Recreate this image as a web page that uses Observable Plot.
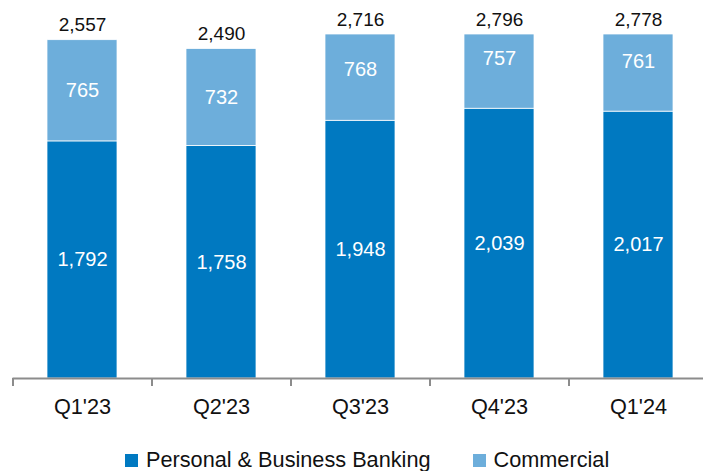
<!DOCTYPE html>
<html>
<head>
<meta charset="utf-8">
<script src="https://cdn.jsdelivr.net/npm/d3@7"></script>
<script src="https://cdn.jsdelivr.net/npm/@observablehq/plot@0.6"></script>
<style>
  html, body { margin: 0; padding: 0; background: #fff; }
  body { width: 703px; height: 471px; position: relative; overflow: hidden; }
  #legend {
    position: absolute; left: 125px; top: 448px;
    display: flex; align-items: center;
    font-family: "Liberation Sans", Arial, sans-serif;
    font-size: 21.7px; color: #111; white-space: nowrap; line-height: 24px;
  }
  #legend .sw { width: 13px; height: 13px; display: inline-block; margin-right: 8px; }
  #legend .item { display: flex; align-items: center; }
</style>
</head>
<body>
<div id="chart"></div>
<div id="legend"></div>
<script>
const quarters = ["Q1'23", "Q2'23", "Q3'23", "Q4'23", "Q1'24"];
const seriesNames = ["Personal & Business Banking", "Commercial"];
const pbb = [1792, 1758, 1948, 2039, 2017];
const commercial = [765, 732, 768, 757, 761];
const totals = [2557, 2490, 2716, 2796, 2778];
const colors = ["#0079C1", "#6DAEDB"];

const rows = [];
quarters.forEach((q, i) => {
  rows.push({q, series: seriesNames[0], value: pbb[i]});
  rows.push({q, series: seriesNames[1], value: commercial[i]});
});
const totalRows = quarters.map((q, i) => ({q, total: totals[i]}));
const fmt = d3.format(",");
const font = "'Liberation Sans', Arial, sans-serif";

const chart = Plot.plot({
  width: 703,
  height: 440,
  marginTop: 34,
  marginBottom: 62,
  marginLeft: 12.5,
  marginRight: 0,
  style: {fontFamily: font, fontSize: "19px", background: "white", color: "#111"},
  x: {domain: quarters, range: [12.5, 707.5], paddingInner: 0.5, paddingOuter: 0.25, label: null},
  y: {domain: [0, 2600], clamp: true, axis: null},
  color: {domain: seriesNames, range: colors},
  marks: [
    Plot.barY(rows, Plot.stackY({x: "q", y: "value", fill: "series", stroke: "white", strokeWidth: 0.75})),
    Plot.text(rows, Plot.stackY({x: "q", y: "value", z: "series", text: d => fmt(d.value), fill: "white", fontSize: 20})),
    Plot.text(totalRows, {x: "q", y: "total", text: d => fmt(d.total), dy: -15, fontSize: 19, fill: "#111"}),
    Plot.ruleY([0], {stroke: "#8c8c8c", strokeWidth: 2}),
    Plot.axisX({tickSize: 8, tickFormat: () => "", label: null, dx: -69.5, stroke: "#8c8c8c", strokeWidth: 2}),
    Plot.text(quarters, {x: d => d, frameAnchor: "bottom", dy: 35, fontSize: 21.7, fill: "#111"})
  ]
});
document.getElementById("chart").appendChild(chart);

const legend = document.getElementById("legend");
seriesNames.forEach((name, i) => {
  const item = document.createElement("div");
  item.className = "item";
  if (i > 0) item.style.marginLeft = "42px";
  const sw = document.createElement("span");
  sw.className = "sw";
  sw.style.background = colors[i];
  const t = document.createElement("span");
  t.textContent = name;
  item.appendChild(sw);
  item.appendChild(t);
  legend.appendChild(item);
});
</script>
</body>
</html>
